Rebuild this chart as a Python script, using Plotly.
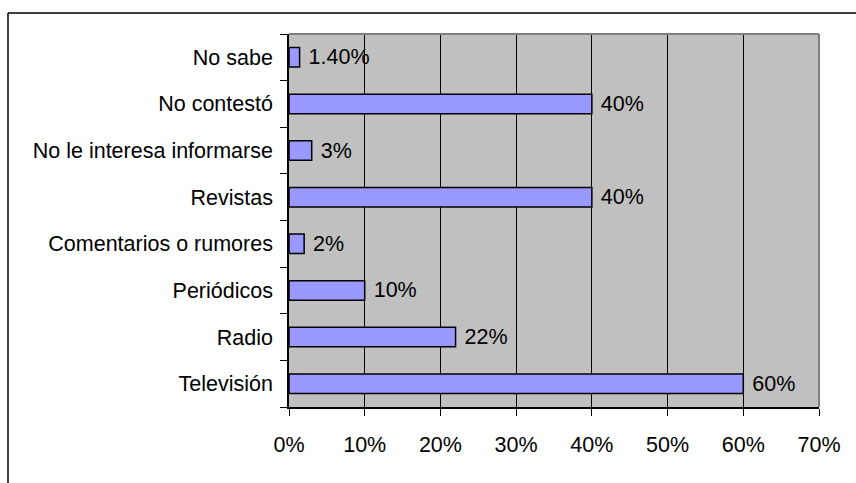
import plotly.graph_objects as go

categories = ["Televisión", "Radio", "Periódicos", "Comentarios o rumores",
              "Revistas", "No le interesa informarse", "No contestó", "No sabe"]
values = [60, 22, 10, 2, 40, 3, 40, 1.4]
value_labels = ["60%", "22%", "10%", "2%", "40%", "3%", "40%", "1.40%"]
x_ticks = [0, 10, 20, 30, 40, 50, 60, 70]

W, H = 856, 483
L, R, T, B = 289, 37, 34, 76
pw = W - L - R
ph = H - T - B
FS = 21.5

def px_x(p):
    return (p - L) / pw

def px_y(p):
    return 1 + (T - p) / ph

fig = go.Figure(go.Bar(
    x=values, y=categories, orientation="h",
    marker=dict(color="#9999FF", line=dict(color="#000000", width=1.5)),
    width=0.42,
    text=[" " + t for t in value_labels], textposition="outside",
    constraintext="none",
    textfont=dict(family="Liberation Sans, Arial", size=FS, color="#000000"),
    cliponaxis=False,
))

fig.update_layout(
    width=W, height=H,
    margin=dict(l=L, r=R, t=T, b=B),
    paper_bgcolor="#FFFFFF", plot_bgcolor="#C0C0C0",
    font=dict(family="Liberation Sans, Arial", size=FS, color="#000000"),
    showlegend=False,
    xaxis=dict(range=[0, 70], tickvals=x_ticks, ticktext=[f"{v}%" for v in x_ticks],
               showgrid=True, gridcolor="#000000", gridwidth=1,
               ticks="outside", ticklen=7, tickcolor="#000000",
               showline=True, linecolor="#000000", linewidth=1.5,
               zeroline=False, ticklabelstandoff=10, fixedrange=True),
    yaxis=dict(type="category", categoryorder="array", categoryarray=categories,
               tickson="boundaries", ticks="outside", ticklen=7, tickcolor="#000000",
               showline=True, linecolor="#000000", linewidth=1.5, showgrid=False,
               ticklabelstandoff=10, fixedrange=True),
    shapes=[
        dict(type="line", xref="paper", yref="paper", x0=0, x1=1, y0=1, y1=1,
             line=dict(color="#808080", width=2)),
        dict(type="line", xref="paper", yref="paper", x0=1, x1=1, y0=0, y1=1,
             line=dict(color="#808080", width=2)),
        dict(type="line", xref="paper", yref="paper", x0=px_x(8), x1=px_x(860),
             y0=px_y(13), y1=px_y(13), line=dict(color="#000000", width=1.5)),
        dict(type="line", xref="paper", yref="paper", x0=px_x(8), x1=px_x(8),
             y0=px_y(13), y1=px_y(490), line=dict(color="#000000", width=1.5)),
    ],
)

fig.write_html("out.html")
